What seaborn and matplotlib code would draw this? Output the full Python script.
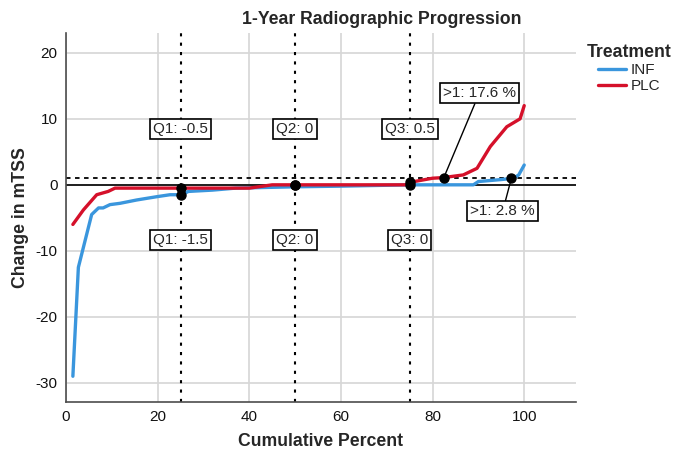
import numpy as np
import pandas as pd
import matplotlib
matplotlib.use("Agg")
import matplotlib.pyplot as plt
import seaborn as sns

# ---- data ----
treatments = ["INF", "PLC"]
INF_pct = [1.5, 2.7, 5.6, 7.1, 8.1, 9.6, 11.8, 15.4, 19.8, 22.7, 25.3, 26.7, 32, 37, 50, 60, 75, 88.9, 90, 95, 97.7, 98.8, 100]
INF_chg = [-29, -12.5, -4.5, -3.5, -3.5, -3.0, -2.8, -2.3, -1.8, -1.5, -1.5, -1.0, -0.8, -0.5, -0.3, -0.2, 0, 0, 0.5, 0.8, 1.0, 1.5, 3.0]
PLC_pct = [1.5, 3.8, 6.7, 9.2, 10.7, 25, 40, 45, 74, 76, 80, 82.4, 86.7, 89.7, 92.6, 96.2, 99.1, 100]
PLC_chg = [-6.0, -3.8, -1.5, -1.0, -0.5, -0.5, -0.5, 0, 0, 0.5, 1.0, 1.1, 1.5, 2.5, 5.8, 8.8, 10, 12]

quart_pct = [25, 50, 75]
INF_quart = [-1.5, 0, 0]
PLC_quart = [-0.5, 0, 0.5]
INF_gt1_pct = 2.8
PLC_gt1_pct = 17.6
threshold = 1

colors = {"INF": "#3A96DD", "PLC": "#D5102A"}

df = pd.concat([
    pd.DataFrame({"Cumulative Percent": INF_pct, "Change in mTSS": INF_chg, "Treatment": "INF"}),
    pd.DataFrame({"Cumulative Percent": PLC_pct, "Change in mTSS": PLC_chg, "Treatment": "PLC"}),
])

sns.set_theme(style="whitegrid")
plt.rcParams["font.family"] = ["Liberation Sans", "DejaVu Sans"]
plt.rcParams["axes.unicode_minus"] = False

fig = plt.figure(figsize=(6.73, 4.5), dpi=100)
ax = fig.add_axes([66/673, 1-402/450, 510/673, 369/450])

ax.set_xlim(0, 111.3)
ax.set_ylim(-32.9, 23)
ax.set_xticks([0, 20, 40, 60, 80, 100])
ax.set_yticks([-30, -20, -10, 0, 10, 20])
ax.grid(True, color="#d6d6d6", lw=1.2)
ax.set_axisbelow(True)

# reference lines
ax.axhline(0, color="black", lw=1.2, zorder=1.5)
ax.axhline(threshold, color="black", lw=1.3, ls=(0, (2.5, 2.5)), zorder=1.5)
for q in quart_pct:
    ax.axvline(q, color="black", lw=1.5, ls=(0, (1.5, 3)), zorder=1.5)

sns.lineplot(data=df, x="Cumulative Percent", y="Change in mTSS", hue="Treatment",
             hue_order=treatments, palette=colors, lw=2.4, estimator=None,
             sort=True, ax=ax, zorder=2)

# points
ax.scatter(quart_pct + quart_pct, INF_quart + PLC_quart, s=42, color="black", zorder=5)
ax.scatter([100 - PLC_gt1_pct, 100 - INF_gt1_pct], [threshold, threshold], s=42, color="black", zorder=5)

box = dict(boxstyle="square,pad=0.2", fc="white", ec="black", lw=1.2)
for i, (q, v) in enumerate(zip(quart_pct, PLC_quart)):
    ax.text(q, 8.5, f"Q{i+1}: {v:g}", ha="center", va="center", fontsize=11, bbox=box, zorder=6)
for i, (q, v) in enumerate(zip(quart_pct, INF_quart)):
    ax.text(q, -8.3, f"Q{i+1}: {v:g}", ha="center", va="center", fontsize=11, bbox=box, zorder=6)

ax.annotate(f">1: {PLC_gt1_pct} %", xy=(100 - PLC_gt1_pct, threshold), xytext=(90.2, 13.9),
            ha="center", va="center", fontsize=11, bbox=box, zorder=6,
            arrowprops=dict(arrowstyle="-", color="black", lw=1, shrinkA=0, shrinkB=0))
ax.annotate(f">1: {INF_gt1_pct} %", xy=(100 - INF_gt1_pct, threshold), xytext=(95.3, -4.0),
            ha="center", va="center", fontsize=11, bbox=box, zorder=6,
            arrowprops=dict(arrowstyle="-", color="black", lw=1, shrinkA=0, shrinkB=0))

for s in ["top", "right"]:
    ax.spines[s].set_visible(False)
for s in ["left", "bottom"]:
    ax.spines[s].set_color("#4d4d4d")
    ax.spines[s].set_linewidth(1.2)
ax.tick_params(length=0, labelsize=11, colors="#111111", pad=6)

ax.set_xlabel("Cumulative Percent", fontsize=12.7, fontweight="bold", labelpad=6)
ax.set_ylabel("Change in mTSS", fontsize=12.7, fontweight="bold", labelpad=5)
fig.text(382/673, 1-20/450, "1-Year Radiographic Progression", ha="center", va="center",
         fontsize=12.7, fontweight="bold")

leg = ax.legend(title="Treatment", loc="upper left", bbox_to_anchor=(1.0, 1.0),
                frameon=False, fontsize=11, handlelength=1.8, handletextpad=0.3,
                borderaxespad=0.3, labelspacing=0.15)
leg.get_title().set_fontweight("bold")
leg.get_title().set_fontsize(12.7)
for h in leg.legend_handles:
    h.set_linewidth(2.4)

fig.savefig("out.png", dpi=100)
